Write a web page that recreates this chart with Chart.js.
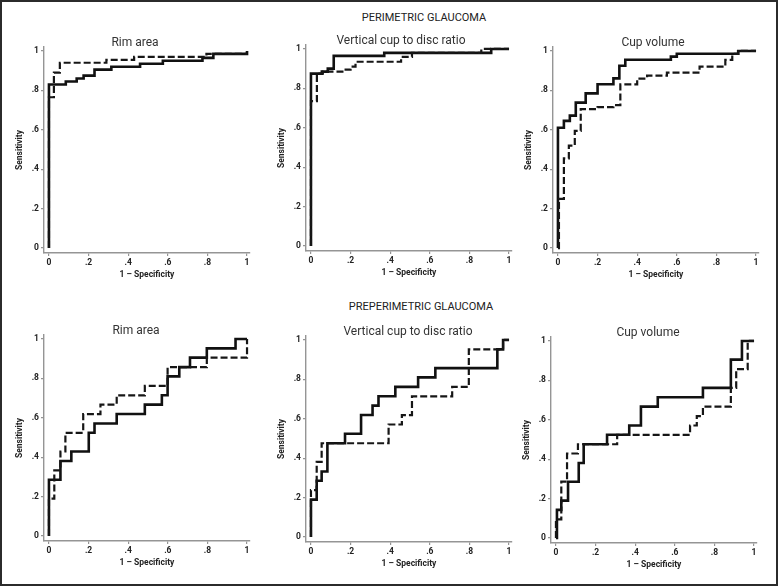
<!DOCTYPE html>
<html>
<head>
<meta charset="utf-8">
<title>ROC curves - glaucoma</title>
<script src="https://cdn.jsdelivr.net/npm/chart.js@4.4.1/dist/chart.umd.min.js"></script>
<style>
    html, body { margin: 0; padding: 0; background: #fff; }
    #figure {
        position: relative;
        width: 778px;
        height: 586px;
        box-sizing: border-box;
        border: 2px solid #2b2b2b;
        background: #fff;
        overflow: hidden;
        font-family: Roboto, sans-serif;
    }
    #figure canvas { position: absolute; }
    .heading {
        position: absolute;
        width: 300px;
        text-align: center;
        font-size: 11px;
        line-height: 12px;
        color: #222;
    }
</style>
</head>
<body>
<div id="figure"></div>
<script>
/*
  ROC curves, perimetric / preperimetric glaucoma
  solid and dashed curve per panel
*/

const tickValues = [0, 0.2, 0.4, 0.6, 0.8, 1];
const tickLabels = ["0", ".2", ".4", ".6", ".8", "1"];

const groupTitles = ["PERIMETRIC GLAUCOMA", "PREPERIMETRIC GLAUCOMA"];
const panelTitles = ["Rim area", "Vertical cup to disc ratio", "Cup volume",
                     "Rim area", "Vertical cup to disc ratio", "Cup volume"];
const xTitle = "1 \u2013 Specificity";
const yTitle = "Sensitivity";

// perimetric - rim area
const periRimSolidX = [0, 0, 0.085, 0.14, 0.175, 0.23, 0.315, 0.46, 0.575, 0.775, 0.83, 1.0];
const periRimSolidY = [0, 0.83, 0.845, 0.86, 0.875, 0.905, 0.92, 0.935, 0.95, 0.965, 0.985, 1.0];
const periRimDashX = [0, 0, 0.025, 0.055, 0.29, 0.43, 0.795, 1.0];
const periRimDashY = [0, 0.765, 0.89, 0.94, 0.955, 0.97, 0.985, 0.985];

// perimetric - vertical cup to disc ratio
const periVcdSolidX = [0, 0, 0.055, 0.085, 0.115, 0.37, 0.91, 1.0];
const periVcdSolidY = [0, 0.875, 0.885, 0.9, 0.965, 0.98, 1.0, 1.0];
const periVcdDashX = [0, 0, 0.03, 0.06, 0.165, 0.2, 0.225, 0.455, 0.51, 0.86, 1.0];
const periVcdDashY = [0, 0.735, 0.875, 0.885, 0.895, 0.91, 0.935, 0.96, 0.98, 1.0, 1.0];

// perimetric - cup volume
const periCupSolidX = [0, 0, 0.03, 0.06, 0.09, 0.14, 0.2, 0.28, 0.31, 0.34, 0.57, 0.6, 0.91, 1.0];
const periCupSolidY = [0, 0.61, 0.645, 0.672, 0.738, 0.785, 0.831, 0.861, 0.925, 0.955, 0.971, 0.986, 1.0, 1.0];
const periCupDashX = [0, 0.005, 0.03, 0.055, 0.085, 0.115, 0.2, 0.28, 0.315, 0.4, 0.45, 0.55, 0.715, 0.845, 0.88, 0.91, 1.0];
const periCupDashY = [0, 0.25, 0.455, 0.52, 0.595, 0.705, 0.715, 0.725, 0.83, 0.86, 0.875, 0.89, 0.92, 0.955, 0.985, 1.0, 1.0];

// preperimetric - rim area
const prepRimSolidX = [0, 0, 0.058, 0.113, 0.201, 0.23, 0.342, 0.484, 0.57, 0.599, 0.658, 0.712, 0.797, 0.942, 1.0];
const prepRimSolidY = [0, 0.286, 0.381, 0.429, 0.524, 0.571, 0.619, 0.667, 0.714, 0.810, 0.857, 0.905, 0.952, 1.0, 1.0];
const prepRimDashX = [0, 0, 0.027, 0.058, 0.083, 0.173, 0.26, 0.342, 0.484, 0.599, 0.797, 1.0];
const prepRimDashY = [0, 0.190, 0.333, 0.429, 0.524, 0.619, 0.667, 0.714, 0.762, 0.857, 0.905, 1.0];

// preperimetric - vertical cup to disc ratio
const prepVcdSolidX = [0, 0, 0.029, 0.054, 0.083, 0.172, 0.253, 0.311, 0.341, 0.426, 0.541, 0.628, 0.941, 0.97, 1.0];
const prepVcdSolidY = [0, 0.190, 0.286, 0.333, 0.476, 0.524, 0.619, 0.667, 0.714, 0.762, 0.810, 0.857, 0.952, 1.0, 1.0];
const prepVcdDashX = [0, 0, 0.029, 0.054, 0.392, 0.459, 0.51, 0.713, 0.797, 0.97, 1.0];
const prepVcdDashY = [0, 0.238, 0.381, 0.476, 0.571, 0.619, 0.714, 0.762, 0.952, 1.0, 1.0];

// preperimetric - cup volume
const prepCupSolidX = [0, 0.005, 0.027, 0.061, 0.115, 0.14, 0.258, 0.37, 0.429, 0.514, 0.742, 0.883, 0.939, 1.0];
const prepCupSolidY = [0, 0.143, 0.190, 0.286, 0.381, 0.476, 0.524, 0.571, 0.667, 0.714, 0.762, 0.905, 1.0, 1.0];
const prepCupDashX = [0, 0, 0.027, 0.056, 0.111, 0.309, 0.677, 0.711, 0.742, 0.883, 0.91, 0.968, 1.0];
const prepCupDashY = [0, 0.095, 0.286, 0.429, 0.476, 0.524, 0.571, 0.619, 0.667, 0.762, 0.857, 1.0, 1.0];

const panelSeries = [
    [periRimSolidX, periRimSolidY, periRimDashX, periRimDashY],
    [periVcdSolidX, periVcdSolidY, periVcdDashX, periVcdDashY],
    [periCupSolidX, periCupSolidY, periCupDashX, periCupDashY],
    [prepRimSolidX, prepRimSolidY, prepRimDashX, prepRimDashY],
    [prepVcdSolidX, prepVcdSolidY, prepVcdDashX, prepVcdDashY],
    [prepCupSolidX, prepCupSolidY, prepCupDashX, prepCupDashY]
];

// page layout (pixel position of x=0 / y=1 and title centre for each panel)
const panelLayout = [
    { x0: 49,  y1: 51,  titleX: 135 },
    { x0: 311, y1: 49,  titleX: 401 },
    { x0: 558, y1: 51,  titleX: 653 },
    { x0: 49,  y1: 339, titleX: 136 },
    { x0: 311, y1: 340, titleX: 408 },
    { x0: 556, y1: 341, titleX: 648 }
];
const headingLayout = [
    { cx: 424, cy: 18 },
    { cx: 421, cy: 307 }
];

const FRAME = 2;
const CANVAS_H = 290;
const PLOT_RIGHT = 250;
const AXIS_COLOR = "#959595";
const TEXT_COLOR = "#222222";

document.addEventListener("DOMContentLoaded", () => {

    const figure = document.getElementById("figure");

    groupTitles.forEach((text, i) => {
        const div = document.createElement("div");
        div.className = "heading";
        div.textContent = text;
        div.style.left = (headingLayout[i].cx - 150 - FRAME) + "px";
        div.style.top = (headingLayout[i].cy - 6 - FRAME) + "px";
        figure.appendChild(div);
    });

    panelLayout.forEach((pos, i) => {
        const left = pos.x0 - 49;
        const width = Math.round(2 * (pos.titleX - left));
        const canvas = document.createElement("canvas");
        canvas.width = width;
        canvas.height = CANVAS_H;
        canvas.style.left = (left - FRAME) + "px";
        canvas.style.top = (pos.y1 - 51 - FRAME) + "px";
        figure.appendChild(canvas);
        drawPanel(canvas, width, panelTitles[i], panelSeries[i]);
    });

});

function toPoints(xs, ys) {
    return xs.map((x, i) => ({ x: x, y: ys[i] }));
}

function axisOptions(min, max, fitSize, title, titlePadding) {

    return {
        type: "linear",
        min: min,
        max: max,
        afterBuildTicks: (scale) => {
            scale.ticks = tickValues.map((v) => ({ value: v }));
        },
        afterFit: (scale) => {
            if (scale.isHorizontal()) {
                scale.height = fitSize;
            } else {
                scale.width = fitSize;
            }
        },
        ticks: {
            autoSkip: false,
            maxRotation: 0,
            padding: 2,
            color: TEXT_COLOR,
            font: { family: "Roboto", size: 8.5, weight: "bold" },
            callback: (value) => tickLabels[tickValues.indexOf(value)]
        },
        grid: {
            drawOnChartArea: false,
            drawTicks: true,
            tickLength: 3,
            color: AXIS_COLOR,
            lineWidth: 1.2
        },
        border: {
            display: true,
            color: AXIS_COLOR,
            width: 1.4
        },
        title: {
            display: true,
            text: title,
            color: TEXT_COLOR,
            font: { family: "Roboto", size: 8.5, weight: "bold", lineHeight: 1.2 },
            padding: titlePadding
        }
    };
}

function drawPanel(canvas, width, title, series) {

    const [solidX, solidY, dashX, dashY] = series;

    new Chart(canvas, {

        type: "line",

        data: {
            datasets: [
                {
                    label: "dashed",
                    data: toPoints(dashX, dashY),
                    yAxisID: "y",
                    borderColor: "#161616",
                    borderWidth: 2.2,
                    borderDash: [7, 3],
                    stepped: "before",
                    pointRadius: 0,
                    fill: false
                },
                {
                    label: "solid",
                    data: toPoints(solidX, solidY),
                    yAxisID: "y",
                    borderColor: "#111111",
                    borderWidth: 2.6,
                    stepped: "before",
                    pointRadius: 0,
                    fill: false
                }
            ]
        },

        options: {
            responsive: false,
            animation: false,
            events: [],
            layout: {
                padding: 0
            },
            plugins: {
                legend: { display: false },
                tooltip: { enabled: false },
                title: {
                    display: true,
                    text: title,
                    color: "#333333",
                    font: { family: "Roboto", size: 12, weight: "normal", lineHeight: 1 },
                    padding: { top: 37, bottom: -2 }
                }
            },
            scales: {
                x: axisOptions(-0.025, 1.015, 37, xTitle, { top: 0, bottom: 9.9 }),
                y: axisOptions(-0.025, 1.02, 44, yTitle, { top: 14.9, bottom: 0 }),
                // empty spacer on the right so the panel title centres over the whole panel
                spacer: {
                    type: "linear",
                    axis: "y",
                    position: "right",
                    display: true,
                    ticks: { display: false },
                    grid: { display: false, drawTicks: false },
                    border: { display: false },
                    afterFit: (scale) => {
                        scale.width = width - PLOT_RIGHT;
                    }
                }
            }
        }

    });

}
</script>
</body>
</html>
